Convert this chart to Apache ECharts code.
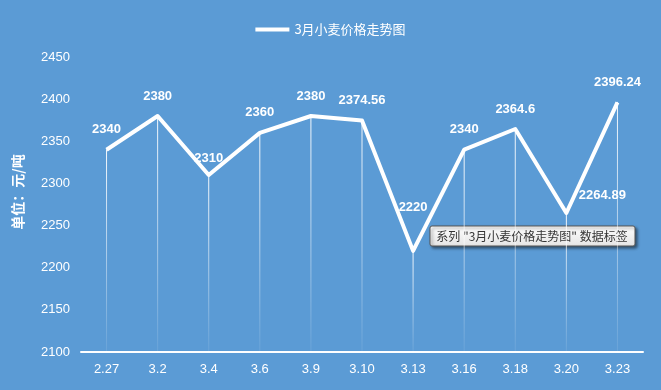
<!DOCTYPE html>
<html><head><meta charset="utf-8">
<script src="https://cdn.jsdelivr.net/npm/echarts@6/dist/echarts.min.js"></script>
<style>html,body{margin:0;padding:0;background:#5B9BD5;}#c{width:661px;height:390px;}</style>
</head><body><div id="c"></div>
<script>
var categories = ['2.27','3.2','3.4','3.6','3.9','3.10','3.13','3.16','3.18','3.20','3.23'];
var prices = [2340, 2380, 2310, 2360, 2380, 2374.56, 2220, 2340, 2364.6, 2264.89, 2396.24];
var seriesName = '3月小麦价格走势图';
var yMin = 2100, yMax = 2450, yStep = 50;

var labelTweaks = {
  2: {offset: [0, 3]},
  6: {offset: [0, -23]},
  9: {position: 'right', distance: 12, offset: [0, -18]}
};
var lineData = prices.map(function (v, i) {
  var d = {value: v};
  if (labelTweaks[i]) d.label = labelTweaks[i];
  return d;
});

var chart = echarts.init(document.getElementById('c'));
chart.setOption({
  backgroundColor: '#5B9BD5',
  animation: false,
  textStyle: {fontFamily: 'Liberation Sans, Noto Sans CJK SC, sans-serif'},
  legend: {
    data: [{name: seriesName, icon: 'rect'}],
    top: 18, left: 'center',
    itemWidth: 34, itemHeight: 4, itemGap: 4,
    textStyle: {color: '#fff', fontSize: 13, fontFamily: 'Noto Sans CJK SC, sans-serif'}
  },
  grid: {left: 81, right: 18, top: 57, bottom: 38},
  xAxis: {
    type: 'category', data: categories, boundaryGap: true,
    axisLine: {lineStyle: {color: '#fff', width: 2}},
    axisTick: {show: false},
    axisLabel: {color: '#fff', fontSize: 13, margin: 11}
  },
  yAxis: {
    type: 'value', min: yMin, max: yMax, interval: yStep,
    axisLine: {show: false}, axisTick: {show: false},
    splitLine: {show: false},
    axisLabel: {color: '#fff', fontSize: 13, margin: 11, formatter: function (v) { return String(v); }}
  },
  graphic: [
    {type: 'text', x: 18, y: 192, rotation: Math.PI / 2,
     style: {text: '单位：元/吨', fill: '#fff', font: 'bold 14px "Noto Sans CJK SC"', textAlign: 'center', textVerticalAlign: 'middle'}},
    {type: 'rect', shape: {x: 430, y: 226, width: 205, height: 20, r: 2},
     style: {fill: {type: 'linear', x: 0, y: 0, x2: 0, y2: 1, colorStops: [{offset: 0, color: '#ffffff'}, {offset: 1, color: '#e4e4e4'}]},
             stroke: '#555', lineWidth: 1, shadowBlur: 3, shadowOffsetX: 2, shadowOffsetY: 2, shadowColor: 'rgba(0,0,0,0.45)'}},
    {type: 'text', x: 532, y: 236,
     style: {text: '系列 "3月小麦价格走势图" 数据标签', fill: '#333', font: '12px "Noto Sans CJK SC"', textAlign: 'center', textVerticalAlign: 'middle'}}
  ],
  series: [
    {
      type: 'custom', silent: true, z: 1,
      data: prices.map(function (v, i) { return [i, v]; }),
      renderItem: function (params, api) {
        var top = api.coord([api.value(0), api.value(1)]);
        var bot = api.coord([api.value(0), yMin]);
        return {
          type: 'line',
          shape: {x1: top[0], y1: top[1], x2: bot[0], y2: bot[1]},
          style: {
            lineWidth: 1,
            stroke: {type: 'linear', x: 0, y: 0, x2: 0, y2: 1, global: false,
              colorStops: [{offset: 0, color: 'rgba(255,255,255,0.95)'}, {offset: 1, color: 'rgba(255,255,255,0.08)'}]}
          }
        };
      }
    },
    {
      name: seriesName, type: 'line', z: 3,
      data: lineData,
      showSymbol: true, symbol: 'circle', symbolSize: 1,
      lineStyle: {color: '#fff', width: 4, join: 'round'},
      itemStyle: {color: '#fff'},
      label: {show: true, position: 'top', distance: 13, color: '#fff', fontSize: 13, fontWeight: 'bold'}
    }
  ]
});
</script></body></html>
